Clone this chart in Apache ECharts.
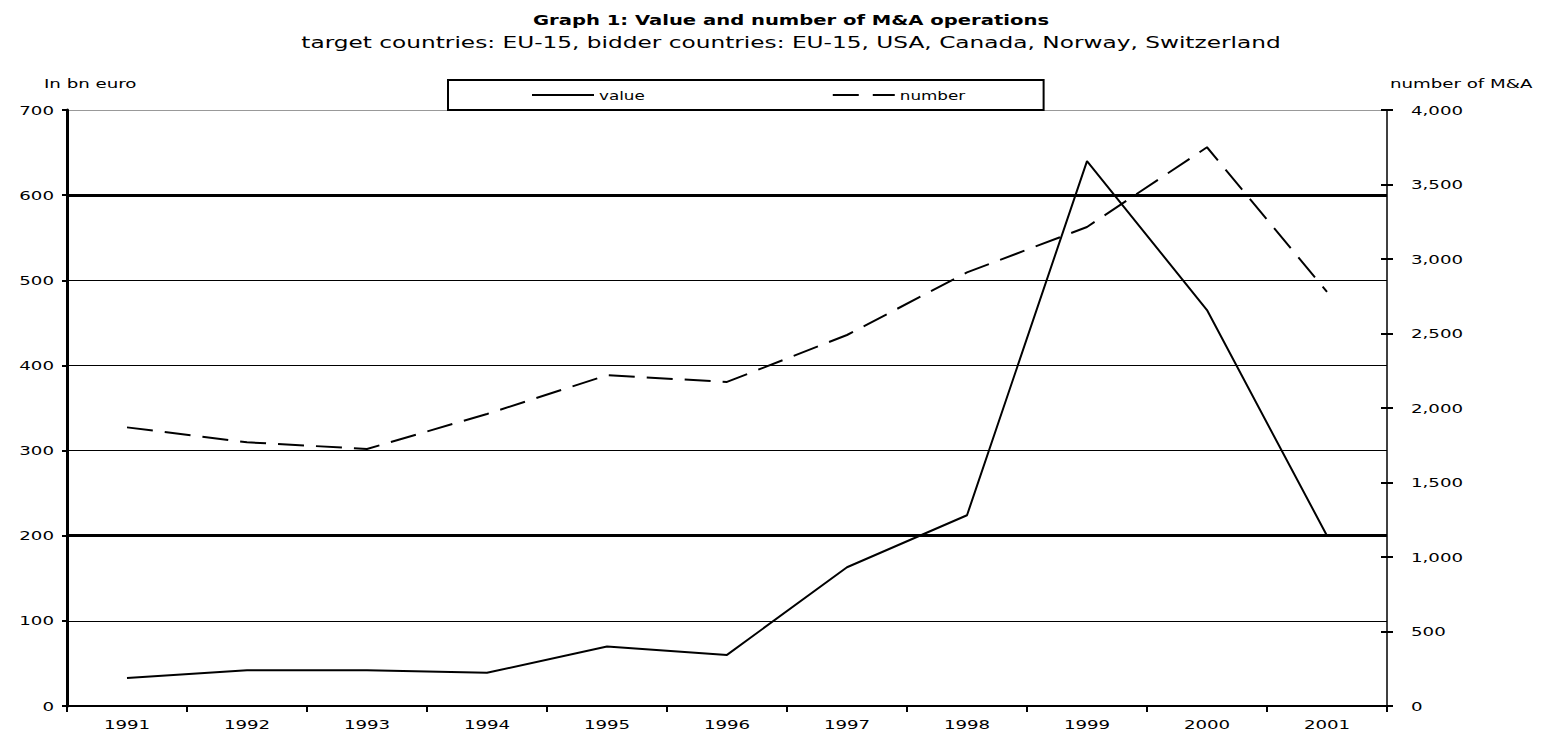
<!DOCTYPE html>
<html><head><meta charset="utf-8">
<script src="https://cdn.jsdelivr.net/npm/echarts@6/dist/echarts.min.js"></script>
<style>html,body{margin:0;padding:0;background:#fff}#c{width:1551px;height:743px}</style>
</head><body><div id="c"></div>
<script>
const years = ['1991','1992','1993','1994','1995','1996','1997','1998','1999','2000','2001'];
const valueBn = [33, 42, 42, 39, 70, 60, 163, 224, 640, 465, 200];
const numberMA = [1870, 1770, 1725, 1960, 2220, 2175, 2490, 2910, 3215, 3750, 2780];
const leftTicks = [0, 100, 200, 300, 400, 500, 600, 700];
const rightTicks = [0, 500, 1000, 1500, 2000, 2500, 3000, 3500, 4000];

const font = '"DejaVu Sans", Verdana, sans-serif';
const chart = echarts.init(document.getElementById('c'), null, {renderer: 'svg'});
chart.setOption({
  backgroundColor: '#fff',
  animation: false,
  title: {
    text: 'Graph 1: Value and number of M&A operations',
    subtext: 'target countries: EU-15, bidder countries: EU-15, USA, Canada, Norway, Switzerland',
    left: 786, textAlign: 'center', top: 8, itemGap: 9,
    textStyle: {fontFamily: font, fontSize: 14, fontWeight: 'bold', color: '#000'},
    subtextStyle: {fontFamily: font, fontSize: 15, color: '#000'}
  },
  legend: {
    left: 448, top: 80,
    padding: [9, 97, 9, 84],
    borderColor: '#000', borderWidth: 2,
    itemWidth: 62, itemHeight: 10, itemGap: 201,
    textStyle: {fontFamily: font, fontSize: 12, color: '#000'},
    data: [
      {name: 'value', icon: 'path://M0,0H62V2H0Z', itemStyle: {color: '#000', borderWidth: 0}},
      {name: 'number', icon: 'path://M0,0H26V2H0Z M40,0H62V2H40Z', itemStyle: {color: '#000', borderWidth: 0}}
    ]
  },
  graphic: [
    {type: 'text', left: 44, top: 77, style: {text: 'In bn euro', font: '13px ' + font, fill: '#000'}},
    {type: 'text', left: 1390, top: 77, style: {text: 'number of M&A', font: '13px ' + font, fill: '#000'}}
  ],
  grid: {left: 67, right: 164, top: 110, bottom: 37},
  xAxis: {
    type: 'category', data: years, boundaryGap: true,
    axisLine: {lineStyle: {color: '#000', width: 2}},
    axisTick: {show: true, length: 6, lineStyle: {color: '#000', width: 2}},
    axisLabel: {color: '#000', fontFamily: font, fontSize: 13, margin: 12}
  },
  yAxis: [
    {
      type: 'value', min: leftTicks[0], max: leftTicks[leftTicks.length - 1], interval: 100,
      axisLine: {show: true, lineStyle: {color: '#000', width: 3}},
      axisTick: {show: true, length: 5, lineStyle: {color: '#000', width: 2}},
      axisLabel: {color: '#000', fontFamily: font, fontSize: 13, margin: 13},
      splitLine: {show: true, lineStyle: {color: ['#000','#000','#000','#000','#000','#000','#000','#999'], width: 1.2}}
    },
    {
      type: 'value', min: rightTicks[0], max: rightTicks[rightTicks.length - 1], interval: 500,
      position: 'right', offset: 0,
      axisLine: {show: true, lineStyle: {color: '#000', width: 1.5}},
      axisTick: {show: true, inside: false, length: 6, lineStyle: {color: '#000', width: 2}},
      axisLabel: {color: '#000', fontFamily: font, fontSize: 13, margin: 24,
        formatter: v => v.toLocaleString('en-US')},
      splitLine: {show: false}
    },
    {
      type: 'value', min: rightTicks[0], max: rightTicks[rightTicks.length - 1], interval: 500,
      position: 'right', offset: 0,
      axisLine: {show: false},
      axisTick: {show: true, inside: true, length: 6, lineStyle: {color: '#000', width: 2}},
      axisLabel: {show: false},
      splitLine: {show: false}
    }
  ],
  series: [
    {
      name: 'value', type: 'line', yAxisIndex: 0, data: valueBn,
      symbol: 'none', lineStyle: {color: '#000', width: 2}, itemStyle: {color: '#000'},
      markLine: {
        silent: true, symbol: 'none', label: {show: false},
        lineStyle: {color: '#000', width: 3, type: 'solid'},
        data: [{yAxis: 200}, {yAxis: 600}]
      }
    },
    {
      name: 'number', type: 'line', yAxisIndex: 1, data: numberMA,
      symbol: 'none', lineStyle: {color: '#000', width: 2, type: [26, 12]}, itemStyle: {color: '#000'}
    }
  ]
});

// The reference's lettering is horizontally stretched; widen each text about its own anchor.
function stretch() {
  document.querySelectorAll('#c svg text').forEach(t => {
    const cur = t.getAttribute('transform') || '';
    if (t.dataset.done !== undefined && t.dataset.done === cur) return;
    const s = t.textContent.startsWith('target') ? 1.55 : 1.4;
    const x = parseFloat(t.getAttribute('x') || 0), y = parseFloat(t.getAttribute('y') || 0);
    const nt = `${cur} translate(${x} ${y}) scale(${s} 1) translate(${-x} ${-y})`.trim();
    t.setAttribute('transform', nt);
    t.dataset.done = nt;
  });
}
stretch();
chart.on('finished', stretch);
setTimeout(stretch, 0);
setTimeout(stretch, 200);
</script></body></html>
